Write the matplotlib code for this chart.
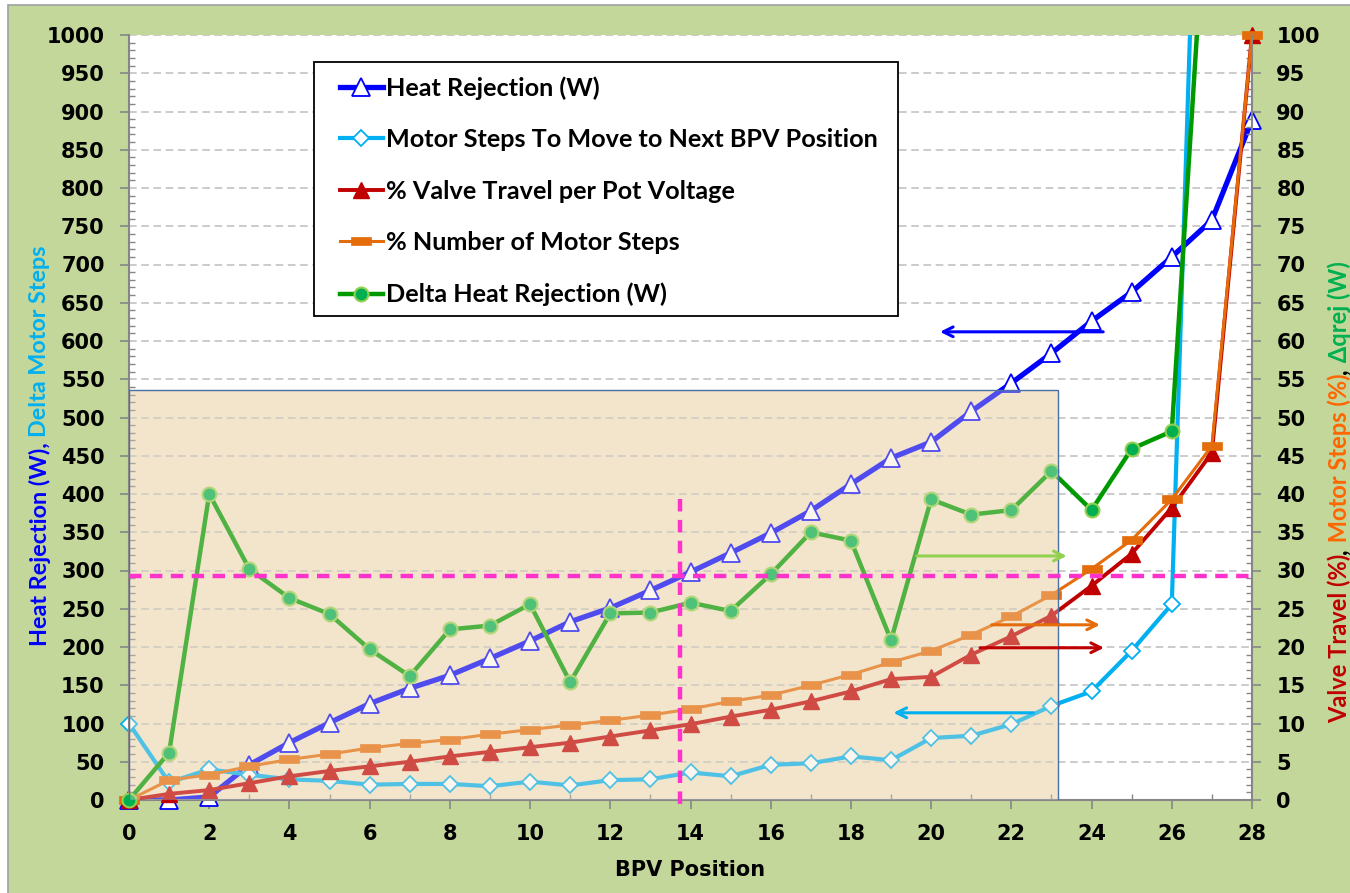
import numpy as np
import matplotlib
matplotlib.use("Agg")
import matplotlib.pyplot as plt
from matplotlib.lines import Line2D
from matplotlib.patches import Rectangle
from matplotlib.path import Path
from matplotlib import font_manager

# ---------------- data ----------------
positions = list(range(29))
heat_rejection = [0, 0, 4, 46, 75, 101, 126, 146, 163, 185, 208, 233, 251, 274, 298,
                  323, 349, 378, 413, 447, 468, 508, 545, 584, 626, 664, 710, 758, 889]
motor_steps_next = [100, 23, 40, 33, 27, 25, 20, 21, 21, 18, 24, 19, 26, 27, 36,
                    31, 46, 48, 57, 52, 81, 84, 99, 123, 142, 195, 256, 1900, np.nan]
valve_travel_pct = [0, 0.8, 1.3, 2.2, 3.1, 3.8, 4.4, 5.0, 5.7, 6.3, 6.9, 7.5, 8.3, 9.1, 9.9,
                    10.9, 11.8, 12.9, 14.2, 15.8, 16.1, 19.0, 21.4, 24.1, 28.0, 32.2, 38.2, 45.4, 100]
motor_steps_pct = [0, 2.6, 3.3, 4.4, 5.3, 6.0, 6.8, 7.4, 7.9, 8.6, 9.2, 9.8, 10.4, 11.1, 11.9,
                   12.9, 13.7, 15.0, 16.4, 18.0, 19.5, 21.6, 24.0, 26.8, 30.2, 34.0, 39.3, 46.3, 100]
delta_heat_rej = [0, 6.2, 40.0, 30.2, 26.4, 24.3, 19.7, 16.2, 22.3, 22.8, 25.6, 15.4, 24.4, 24.5, 25.8,
                  24.7, 29.5, 35.0, 33.9, 20.9, 39.3, 37.3, 37.9, 43.0, 37.9, 45.9, 48.2, 131, np.nan]

legend_labels = ["Heat Rejection (W)",
                 "Motor Steps To Move to Next BPV Position",
                 "% Valve Travel per Pot Voltage",
                 "% Number of Motor Steps",
                 "Delta Heat Rejection (W)"]

ref_level = 293          # horizontal reference (left-axis units)
ref_position = 13.75     # vertical reference (BPV position)
ref_top = 393
highlight_pos = 23.17    # extent of shaded region
highlight_top = 536

# arrows: (y on left axis, start position, tip position, colour)
arrows = [
    (612, 24.29, 20.22, "#0000FF"),
    (319, 19.64, 23.38, "#92D050"),
    (229, 21.51, 24.21, "#E46C0A"),
    (199, 21.22, 24.31, "#C00000"),
    (114, 22.55, 19.06, "#00B0F0"),
]

# ---------------- fonts ----------------
names = {f.name for f in font_manager.fontManager.ttflist}
legend_family = "Lato" if "Lato" in names else "DejaVu Sans"
plt.rcParams["font.family"] = ["DejaVu Sans"]
plt.rcParams["font.weight"] = "bold"

W, H = 1350, 893
fig = plt.figure(figsize=(W / 100, H / 100), dpi=100)
fig.patch.set_facecolor("white")
fig.add_artist(Rectangle((8 / W, -0.01), 1.0, 1 - 5 / H + 0.01, transform=fig.transFigure,
                         facecolor="#C4D79B", edgecolor="#A0A0A0", lw=1.2, zorder=0))

ax = fig.add_axes([129 / W, 1 - 800 / H, 1123 / W, 765 / H])
ax.set_facecolor("white")
ax2 = ax.twinx()

# shaded region background
ax.add_patch(Rectangle((0, 0), highlight_pos, highlight_top, facecolor="#F2E5CC",
                       edgecolor="none", zorder=0.8))

# grid
ax.set_axisbelow("line")
ax.yaxis.grid(True, which="major", ls=(0, (5, 3)), color="#BDBDBD", lw=1.1)

def masked(vals, lim):
    a = np.array(vals, dtype=float)
    return np.where(a <= lim, a, np.nan)

rect_marker = Path([(-1, -0.4), (1, -0.4), (1, 0.4), (-1, 0.4), (-1, -0.4)],
                   [Path.MOVETO, Path.LINETO, Path.LINETO, Path.LINETO, Path.CLOSEPOLY])

styles = [
    dict(color="#0000FF", lw=3.8, marker="^", ms=13, mfc="white", mec="#0000FF", mew=1.3),
    dict(color="#00B0F0", lw=3.0, marker="D", ms=8, mfc="white", mec="#00B0F0", mew=1.3),
    dict(color="#C00000", lw=2.8, marker="^", ms=11, mfc="#C00000", mec="#C00000", mew=1.0),
    dict(color="#E46C0A", lw=2.2, marker=rect_marker, ms=14, mfc="#E46C0A", mec="#E46C0A", mew=0.5),
    dict(color="#009A00", lw=3.2, marker="o", ms=10, mfc="#00B050", mec="#92D050", mew=1.5),
]

series = [(ax, heat_rejection, 1000), (ax, motor_steps_next, 1000),
          (ax2, valve_travel_pct, 100), (ax2, motor_steps_pct, 100), (ax2, delta_heat_rej, 100)]

for i, ((a, vals, lim), st) in enumerate(zip(series, styles)):
    a.plot(positions, vals, color=st["color"], lw=st["lw"], zorder=2 + i * 0.1,
           solid_joinstyle="round")
    a.plot(positions, masked(vals, lim), ls="none", marker=st["marker"], ms=st["ms"],
           mfc=st["mfc"], mec=st["mec"], mew=st["mew"], clip_on=False, zorder=2.05 + i * 0.1)

# translucent overlay of shaded region (on top of series)
ax2.add_patch(Rectangle((0, 0), highlight_pos, highlight_top, transform=ax.transData,
                        facecolor="#F2E5CC", alpha=0.33, edgecolor="none", zorder=5))
ax2.add_patch(Rectangle((0, 0), highlight_pos, highlight_top, transform=ax.transData,
                        facecolor="none", edgecolor="#4A6FA5", lw=1.0, zorder=5.1))

# reference dashed lines
ax2.add_line(Line2D([0, 27.95], [ref_level, ref_level], transform=ax.transData,
                    color="#FF33CC", lw=3.2, ls=(0, (2.8, 1.9)), zorder=6))
ax2.add_line(Line2D([ref_position, ref_position], [ref_top, -15], transform=ax.transData,
                    color="#FF33CC", lw=3.2, ls=(0, (2.8, 1.9)), zorder=6, clip_on=False))

# arrows
for y, x0, x1, c in arrows:
    ax2.annotate("", xy=(x1, y), xytext=(x0, y), xycoords=ax.transData, textcoords=ax.transData,
                 arrowprops=dict(arrowstyle="->,head_length=0.7,head_width=0.35", color=c, lw=2.2,
                                 shrinkA=0, shrinkB=0), zorder=7)

# axes limits and ticks
ax.set_xlim(0, 28)
ax.set_ylim(0, 1000)
ax2.set_ylim(0, 100)
ax.set_xticks(range(0, 29, 2))
ax.set_xticks(range(1, 28, 2), minor=True)
ax.set_yticks(range(0, 1001, 50))
ax.set_yticks(range(0, 1001, 10), minor=True)
ax2.set_yticks(range(0, 101, 5))
ax2.set_yticks(range(0, 101, 1), minor=True)

tick_col = "#868686"
for a in (ax, ax2):
    a.tick_params(which="major", direction="out", length=6.5, width=1.2, color=tick_col,
                  pad=11, labelsize=15, labelcolor="black")
    a.tick_params(which="minor", direction="in", length=4.5, width=1.0, color=tick_col)
for lab in ax.get_xticklabels() + ax.get_yticklabels() + ax2.get_yticklabels():
    lab.set_fontweight("bold")

for a in (ax, ax2):
    a.spines["top"].set_visible(False)
ax2.spines["left"].set_visible(False)
ax2.spines["bottom"].set_visible(False)
ax.spines["right"].set_visible(False)
for s in ("left", "bottom"):
    ax.spines[s].set_color(tick_col)
    ax.spines[s].set_linewidth(1.5)
ax2.spines["right"].set_color(tick_col)
ax2.spines["right"].set_linewidth(1.5)

# legend: separate frame + frameless legend (figure level, above the axes)
fig.add_artist(Rectangle((314 / W, 1 - 316 / H), 584 / W, 254 / H, transform=fig.transFigure,
                         facecolor="white", edgecolor="black", lw=1.3, zorder=4))
handles = [Line2D([], [], color=st["color"], lw=st["lw"], marker=st["marker"], ms=st["ms"],
                  mfc=st["mfc"], mec=st["mec"], mew=st["mew"]) for st in styles]
leg = fig.legend(handles, legend_labels, loc="upper left",
                 bbox_to_anchor=(340 / W, 1 - 76 / H), bbox_transform=fig.transFigure,
                 prop=dict(family=legend_family, weight="bold", size=18.2),
                 frameon=False, borderpad=0, labelspacing=1.13, handlelength=1.7,
                 handletextpad=0.12, borderaxespad=0, numpoints=1)
leg.set_zorder(5)

# x label
fig.text(690 / W, 1 - 870 / H, "BPV Position", ha="center", va="center",
         fontsize=15, fontweight="bold", family="DejaVu Sans")

# multi-coloured rotated axis labels
renderer = fig.canvas.get_renderer()

def stacked_label(pieces, x_px, cy_px, target_px):
    base = 16
    texts = [fig.text(0, 0, s, color=c, rotation=90, ha="center", va="bottom",
                      fontsize=base, fontweight="bold", family=legend_family)
             for s, c in pieces]
    total = sum(t.get_window_extent(renderer).height for t in texts)
    fs = base * target_px / total
    for t in texts:
        t.set_fontsize(fs)
    hs = [t.get_window_extent(renderer).height for t in texts]
    y = (H - cy_px) - sum(hs) / 2
    for t, h in zip(texts, hs):
        t.set_position((x_px / W, y / H))
        y += h

stacked_label([("Heat Rejection (W), ", "#0000FF"), ("Delta Motor Steps", "#00B0F0")],
              40, 446, 402)
stacked_label([("Valve Travel (%)", "#C00000"), (",", "black"), (" Motor Steps (%)", "#FF6600"),
               (",", "black"), (" Δqrej (W)", "#00B050")],
              1339, 492, 462)

fig.savefig("out.png", dpi=100, facecolor=fig.get_facecolor())
